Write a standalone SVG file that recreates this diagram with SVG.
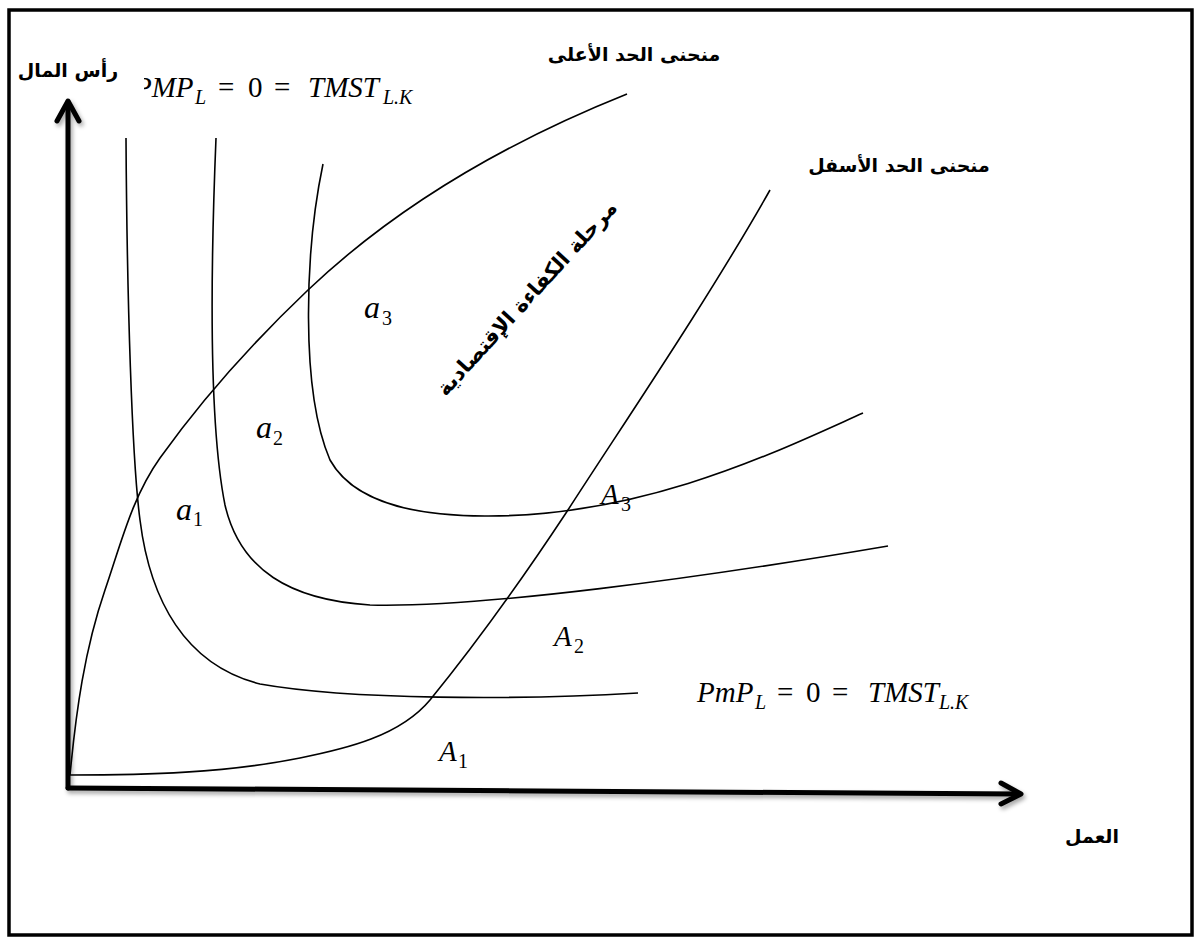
<svg xmlns="http://www.w3.org/2000/svg" width="1195" height="938" viewBox="0 0 1195 938">
<style>
.frame{fill:#fff;stroke:#000;stroke-width:3.5}
.axis{fill:none;stroke:#000;stroke-width:5;stroke-linecap:round;stroke-linejoin:round}
.curve{fill:none;stroke:#000;stroke-width:1.6}
.ar{font-family:"DejaVu Sans",sans-serif;font-weight:bold;font-size:19px;fill:#000}
.m{font-family:"Liberation Serif",serif;font-style:italic;fill:#000}
.m0{font-family:"Liberation Serif",serif;fill:#000}
.f{font-size:29px}
.s{font-size:20px}
.a{font-size:32px}
</style>
<defs>
<filter id="sh" x="-5%" y="-5%" width="110%" height="110%">
<feDropShadow dx="2" dy="3" stdDeviation="2" flood-color="#000" flood-opacity="0.35"/>
</filter>
<clipPath id="clipTop"><rect x="144" y="70" width="300" height="50"/></clipPath>
</defs>
<rect class="frame" x="9" y="10" width="1183" height="925"/>
<g id="axes" filter="url(#sh)">
<path class="axis" d="M68,788 L68,102"/>
<path class="axis" d="M57,121 L68,101 L79,121"/>
<path class="axis" d="M68,788 L1019,794"/>
<path class="axis" d="M1001,783 L1021,794 L1001,804"/>
</g>
<g id="connectors">
<path id="upper-ridge" class="curve" d="M70,775 C76,712 84.5,649.5 105,590 C120.6,544.7 132.1,497 160,458 C203.6,397 253.7,341.6 308,290 C398.6,204 511,140.4 627,94"/>
<path id="lower-ridge" class="curve" d="M70,775 C147,775 224.5,773.1 300,758 C346.1,748.8 399.9,736.1 430,700 C479,640 523,578 566,513 C622,426 707.5,300.6 770,190"/>
<path id="iso1" class="curve" d="M126,138 C127,300 132,460 140,520 C150,600 185,665 260,684 C350,700 520,700 638,693"/>
<path id="iso2" class="curve" d="M216,138 C211,260 208,420 225,505 C240,570 290,600 370,605 C480,608 700,578 888,546"/>
<path id="iso3" class="curve" d="M323,164 C305,250 300,390 330,460 C355,505 420,516 485,516 C645,517 780,450 863,413"/>
</g>
<g id="label-capital"><text class="ar" x="68" y="77" text-anchor="middle">رأس المال</text></g>
<g id="label-labor"><text class="ar" x="1092" y="843" text-anchor="middle">العمل</text></g>
<g id="label-upper"><text class="ar" x="634" y="61" text-anchor="middle">منحنى الحد الأعلى</text></g>
<g id="label-lower"><text class="ar" x="899" y="172" text-anchor="middle">منحنى الحد الأسفل</text></g>
<g id="label-zone"><text class="ar" transform="translate(532,303) rotate(-47.5)" text-anchor="middle" style="font-size:21px">مرحلة الكفاءة الإقتصادية</text></g>
<g id="formula-top" clip-path="url(#clipTop)">
<text class="m f" x="134" y="97">PMP</text>
<text class="m s" x="195" y="104">L</text>
<text class="m0 f" x="218" y="97">=</text>
<text class="m0 f" x="248" y="97">0</text>
<text class="m0 f" x="274" y="97">=</text>
<text class="m f" x="308" y="97">TMST</text>
<text class="m s" x="383" y="104">L.K</text>
</g>
<g id="formula-bottom">
<text class="m f" x="697" y="702">PmP</text>
<text class="m s" x="755" y="709">L</text>
<text class="m0 f" x="777" y="702">=</text>
<text class="m0 f" x="806" y="702">0</text>
<text class="m0 f" x="832" y="702">=</text>
<text class="m f" x="868" y="702">TMST</text>
<text class="m s" x="939" y="709">L.K</text>
</g>
<g id="label-a1"><text class="m a" x="176" y="520">a</text><text class="m0 s" x="193" y="526">1</text></g>
<g id="label-a2"><text class="m a" x="256" y="438">a</text><text class="m0 s" x="273" y="445">2</text></g>
<g id="label-a3"><text class="m a" x="364" y="318">a</text><text class="m0 s" x="382" y="325">3</text></g>
<g id="label-A1"><text class="m f" x="439" y="761">A</text><text class="m0 s" x="458" y="768">1</text></g>
<g id="label-A2"><text class="m f" x="554" y="646">A</text><text class="m0 s" x="574" y="653">2</text></g>
<g id="label-A3"><text class="m f" x="601" y="504">A</text><text class="m0 s" x="621" y="511">3</text></g>
</svg>
